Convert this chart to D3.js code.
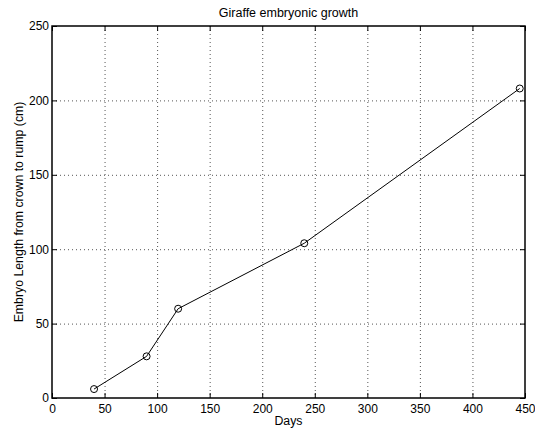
<!DOCTYPE html>
<html>
<head>
<meta charset="utf-8">
<script src="https://cdn.jsdelivr.net/npm/d3@7"></script>
<style>
  body { margin: 0; background: #fff; }
  text { font-family: 'Liberation Sans', Arial, sans-serif; fill: #000; }
</style>
</head>
<body>
<svg id="chart"></svg>
<script>
// data
const days = [40, 90, 120, 240, 445]
const lengths = [6, 28, 60, 104, 208]
const xTicks = [0, 50, 100, 150, 200, 250, 300, 350, 400, 450]
const yTicks = [0, 50, 100, 150, 200, 250]

const W = 535
const H = 435
const margin = { top: 26, left: 52, right: 10, bottom: 37 }
const width = W - margin.left - margin.right
const height = H - margin.top - margin.bottom

const svg = d3.select('#chart')
  .attr('width', W)
  .attr('height', H)
  .append('g')
  .attr('transform', 'translate(' + margin.left + ',' + margin.top + ')')

const xScale = d3.scaleLinear().domain([0, 450]).range([0, width])
const yScale = d3.scaleLinear().domain([0, 250]).range([height, 0])

// grid
svg.append('g')
  .selectAll('line')
  .data(xTicks.slice(1, -1))
  .join('line')
  .attr('x1', d => xScale(d) + 0.5)
  .attr('x2', d => xScale(d) + 0.5)
  .attr('y1', 0)
  .attr('y2', height)
  .attr('stroke', '#555')
  .attr('stroke-width', 1)
  .attr('stroke-dasharray', '1,3')

svg.append('g')
  .selectAll('line')
  .data(yTicks.slice(1, -1))
  .join('line')
  .attr('y1', d => yScale(d) + 0.5)
  .attr('y2', d => yScale(d) + 0.5)
  .attr('x1', 0)
  .attr('x2', width)
  .attr('stroke', '#555')
  .attr('stroke-width', 1)
  .attr('stroke-dasharray', '1,3')

// axes, ticks pointing inward like matlab
const axisFont = g => g.selectAll('text')
  .attr('font-size', 12)
  .attr('font-family', "'Liberation Sans', Arial, sans-serif")
  .attr('fill', '#000')

svg.append('g')
  .attr('transform', 'translate(0,' + height + ')')
  .call(d3.axisBottom(xScale).tickValues(xTicks).tickSize(-5).tickPadding(6).tickSizeOuter(0))
  .call(axisFont)
  .call(g => g.select('.domain').remove())

svg.append('g')
  .call(d3.axisLeft(yScale).tickValues(yTicks).tickSize(-5).tickPadding(3).tickSizeOuter(0))
  .call(axisFont)
  .call(g => g.select('.domain').remove())

svg.append('g')
  .call(d3.axisTop(xScale).tickValues(xTicks).tickSize(-5).tickFormat('').tickSizeOuter(0))
  .call(g => g.select('.domain').remove())

svg.append('g')
  .attr('transform', 'translate(' + width + ',0)')
  .call(d3.axisRight(yScale).tickValues(yTicks).tickSize(-5).tickFormat('').tickSizeOuter(0))
  .call(g => g.select('.domain').remove())

// box
svg.append('rect')
  .attr('x', 0)
  .attr('y', 0)
  .attr('width', width)
  .attr('height', height)
  .attr('fill', 'none')
  .attr('stroke', '#000')
  .attr('stroke-width', 1.5)

// line + markers
const data = days.map((d, i) => ({ day: d, len: lengths[i] }))

svg.append('path')
  .datum(data)
  .attr('fill', 'none')
  .attr('stroke', '#000')
  .attr('stroke-width', 1)
  .attr('d', d3.line().x(d => xScale(d.day)).y(d => yScale(d.len)))

svg.selectAll('.pt')
  .data(data)
  .join('circle')
  .attr('class', 'pt')
  .attr('cx', d => xScale(d.day))
  .attr('cy', d => yScale(d.len))
  .attr('r', 3.5)
  .attr('fill', 'none')
  .attr('stroke', '#000')
  .attr('stroke-width', 1)

// labels
svg.append('text')
  .text('Giraffe embryonic growth')
  .attr('x', width / 2)
  .attr('y', -9)
  .attr('text-anchor', 'middle')
  .attr('fill', '#000')
  .attr('font-size', 12.5)

svg.append('text')
  .text('Days')
  .attr('x', width / 2)
  .attr('y', height + 27)
  .attr('text-anchor', 'middle')
  .attr('fill', '#000')
  .attr('font-size', 12.3)

svg.append('text')
  .text('Embryo Length from crown to rump (cm)')
  .attr('transform', 'translate(' + (-29) + ',' + (height / 2) + ') rotate(-90)')
  .attr('text-anchor', 'middle')
  .attr('fill', '#000')
  .attr('font-size', 12.3)
</script>
</body>
</html>
